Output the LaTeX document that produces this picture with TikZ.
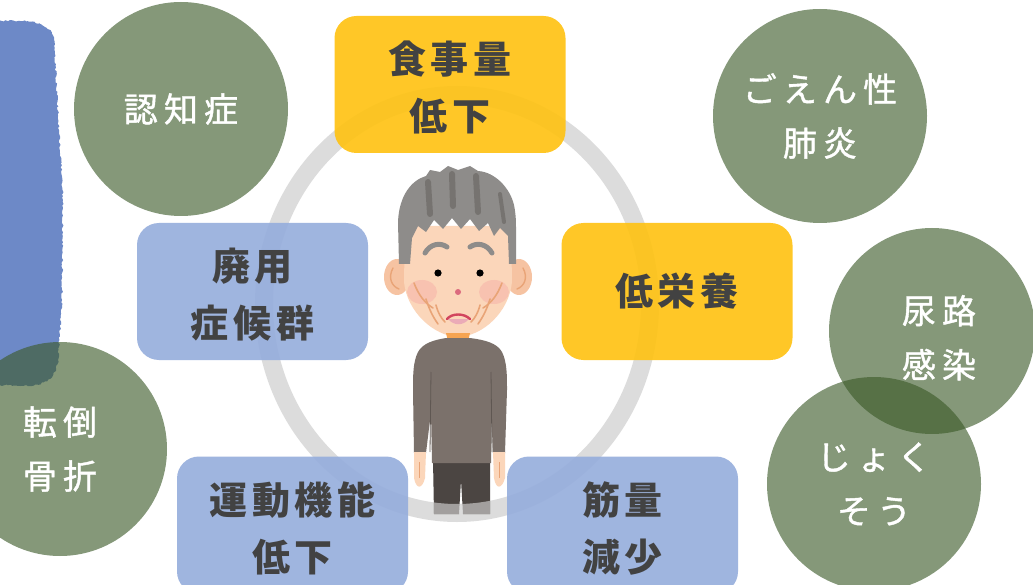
\documentclass[tikz,border=0pt]{standalone}
\usepackage{fontspec}
\newfontfamily\jp{Noto Sans CJK JP}[LetterSpace=12]
\newfontfamily\jpthin{Noto Sans CJK JP}[LetterSpace=18, FakeBold=1.2]
\usetikzlibrary{decorations.pathmorphing}

\definecolor{boxyellow}{HTML}{FFC210}
\definecolor{boxblue}{HTML}{95ADDC}
\definecolor{leafgreen}{RGB}{59,90,40}
\definecolor{inkgray}{HTML}{424242}
\definecolor{ringgray}{HTML}{DCDCDC}
\definecolor{brushblue}{HTML}{6D89C7}
\definecolor{skin}{HTML}{FBD6BA}
\definecolor{skindark}{HTML}{F6C3A2}
\definecolor{blush}{HTML}{F7B3A8}
\definecolor{wrinkle}{HTML}{E9A477}
\definecolor{hair}{HTML}{8E8C8A}
\definecolor{hairdark}{HTML}{767370}
\definecolor{sweater}{HTML}{7B716B}
\definecolor{sweaterline}{HTML}{5F5752}
\definecolor{pants}{HTML}{4B4542}
\definecolor{collar}{HTML}{F6A451}
\definecolor{lip}{HTML}{D2455E}

% taller first line, so two-line labels sit a little lower in their shapes
\newcommand\firstline{\rule{0pt}{39pt}}
\newcommand\firstlinetall{\rule{0pt}{42pt}}

\tikzset{
  boxnode/.style={rounded corners=22pt, minimum width=231pt, minimum height=137pt,
    inner sep=0pt, fill opacity=0.9, text opacity=1, text=inkgray, align=center,
    font=\jp\bfseries\fontsize{38}{57}\selectfont},
  yellowbox/.style={boxnode, fill=boxyellow},
  bluebox/.style={boxnode, fill=boxblue},
  disease/.style={circle, minimum size=214pt, inner sep=0pt, fill=leafgreen,
    fill opacity=0.62, text opacity=1, text=white, align=center,
    font=\jpthin\fontsize{34}{54}\selectfont},
  ring/.style={draw=ringgray, line width=18pt},
  wrinkleline/.style={draw=wrinkle, line width=1.6pt, line cap=round},
  browline/.style={draw=hair, line width=5pt, line cap=round},
}

\begin{document}
\begin{tikzpicture}[x=1pt, y=-1pt]
\useasboundingbox (0,0) rectangle (1033,585);
\fill[white] (0,0) rectangle (1033,585);

% brush stroke on the left edge
\fill[brushblue, decorate, decoration={random steps, segment length=2pt, amplitude=0.9pt}]
  (-6,21) -- (20,21) .. controls (40,22) and (51,26) .. (54,40) -- (59,130)
  -- (63,200) -- (62,300) -- (58,360) .. controls (56,378) and (46,384) .. (30,386)
  -- (-6,385) -- cycle;

% the circle of decline
\draw[ring] (457,304) ellipse [x radius=193pt, y radius=209pt];

% --- elderly man ---
% ears
\fill[skindark] (397,277) ellipse [x radius=13pt, y radius=18pt];
\fill[skindark] (519,277) ellipse [x radius=13pt, y radius=18pt];
\draw[wrinkle, line width=1.4pt, line cap=round] (393,268) .. controls (388,277) and (391,286) .. (399,289);
\draw[wrinkle, line width=1.4pt, line cap=round] (523,268) .. controls (528,277) and (525,286) .. (517,289);
% face
\fill[skin] (405,226) -- (404,282) .. controls (407,312) and (434,336) .. (458,337)
  .. controls (483,336) and (509,312) .. (512,282) -- (511,226) -- cycle;
\fill[blush, opacity=0.55] (422,292) ellipse [x radius=15pt, y radius=12pt];
\fill[blush, opacity=0.55] (494,292) ellipse [x radius=15pt, y radius=12pt];
% hair
\fill[hair] (399,264) -- (398,222) .. controls (399,195) and (412,180) .. (426,176)
  -- (430,170) -- (440,172) -- (448,166) -- (458,170) -- (470,166) -- (478,171)
  .. controls (495,172) and (510,188) .. (514,205) .. controls (516,215) and (516,222) .. (516,230)
  -- (516,264) -- (509,264) -- (508,236) -- (500,228) -- (494,236) -- (488,223)
  -- (479,231) -- (470,219) -- (461,229) -- (452,218) -- (443,229) -- (434,220)
  -- (426,232) -- (418,226) -- (412,238) -- (410,264) -- cycle;
\draw[hairdark, line width=6pt, line cap=round] (428,182) -- (430,214);
\draw[hairdark, line width=6pt, line cap=round] (452,174) -- (453,206);
\draw[hairdark, line width=6pt, line cap=round] (476,176) -- (478,212);
\draw[hairdark, line width=4pt, line cap=round] (500,194) -- (504,222);
% brows, eyes, nose, mouth
\draw[browline] (425,253) .. controls (430,244) and (440,242) .. (447,247);
\draw[browline] (470,247) .. controls (477,242) and (487,244) .. (492,253);
\fill[black] (438,273) circle (3.6pt);
\fill[black] (480,273) circle (3.6pt);
\fill[lip!80] (458,292) circle (3pt);
\fill[lip!45] (448,319) .. controls (454,326) and (463,326) .. (469,319) -- cycle;
\draw[lip, line width=2.4pt, line cap=round] (447,319) .. controls (452,313) and (464,313) .. (470,319);
% wrinkles
\draw[wrinkleline] (414,283) .. controls (419,296) and (425,303) .. (433,308);
\draw[wrinkleline] (426,299) .. controls (429,309) and (433,317) .. (438,324);
\draw[wrinkleline] (436,305) .. controls (438,313) and (441,318) .. (445,322);
\draw[wrinkleline] (502,283) .. controls (497,296) and (491,303) .. (483,308);
\draw[wrinkleline] (490,299) .. controls (487,309) and (483,317) .. (478,324);
\draw[wrinkleline] (480,305) .. controls (478,313) and (475,318) .. (471,322);
% collar
\fill[collar] (446,333) -- (470,333) -- (467,346) .. controls (460,349) and (456,349) .. (449,346) -- cycle;
% pants
\path[fill=pants] (433,460) -- (490,460) -- (490,514) -- (463,514) -- (461,480)
  -- (459,514) -- (434,514) -- cycle;
\begin{scope}
  \clip (433,460) -- (490,460) -- (490,514) -- (434,514) -- cycle;
  \draw[ringgray, line width=18pt, opacity=0.6] (457,304) ellipse [x radius=193pt, y radius=209pt];
\end{scope}
% sweater
\fill[sweater] (446,338) -- (470,338) .. controls (485,340) and (497,343) .. (502,352)
  .. controls (507,362) and (507,375) .. (507,390) -- (505,453) -- (493,453)
  -- (491,412) -- (491,463) -- (432,463) -- (431,412) -- (426,453) -- (414,453)
  -- (413,390) .. controls (413,375) and (413,362) .. (418,352)
  .. controls (423,343) and (434,340) .. (446,338) -- cycle;
\draw[sweaterline, line width=0.8pt] (431,372) -- (430,452);
\draw[sweaterline, line width=0.8pt] (491,372) -- (492,452);
% hands
\fill[skin] (414,452) -- (426,452) -- (425,478) .. controls (422,490) and (416,489) .. (414,478) -- cycle;
\fill[skin] (493,452) -- (505,452) -- (505,478) .. controls (502,489) and (496,490) .. (494,478) -- cycle;
\draw[wrinkle, line width=1pt] (419,462) -- (419,478);
\draw[wrinkle, line width=1pt] (499,462) -- (499,478);

% --- causes and consequences ---
\node[yellowbox] (food) at (450,84.5) {\firstline 食事量\\低下};
\node[bluebox] (disuse) at (252.5,291.5) {\firstline 廃用\\症候群};
\node[yellowbox] (malnut) at (677,291.5) {低栄養};
\node[bluebox] (motor) at (292.5,525) {\firstline 運動機能\\低下};
\node[bluebox] (muscle) at (622.5,525) {\firstline 筋量\\減少};

% --- resulting conditions ---
\node[disease] (dementia) at (181,109) {認知症};
\node[disease] (pneumonia) at (820,116) {ごえん性\\肺炎};
\node[disease, minimum size=206pt] (uti) at (932,331) {\firstlinetall\hspace*{14pt}尿路\\\hspace*{14pt}感染};
\node[disease] (ulcer) at (874,484) {じょく\\そう};
\node[disease] (fracture) at (60,449) {転倒\\骨折};
\end{tikzpicture}
\end{document}
